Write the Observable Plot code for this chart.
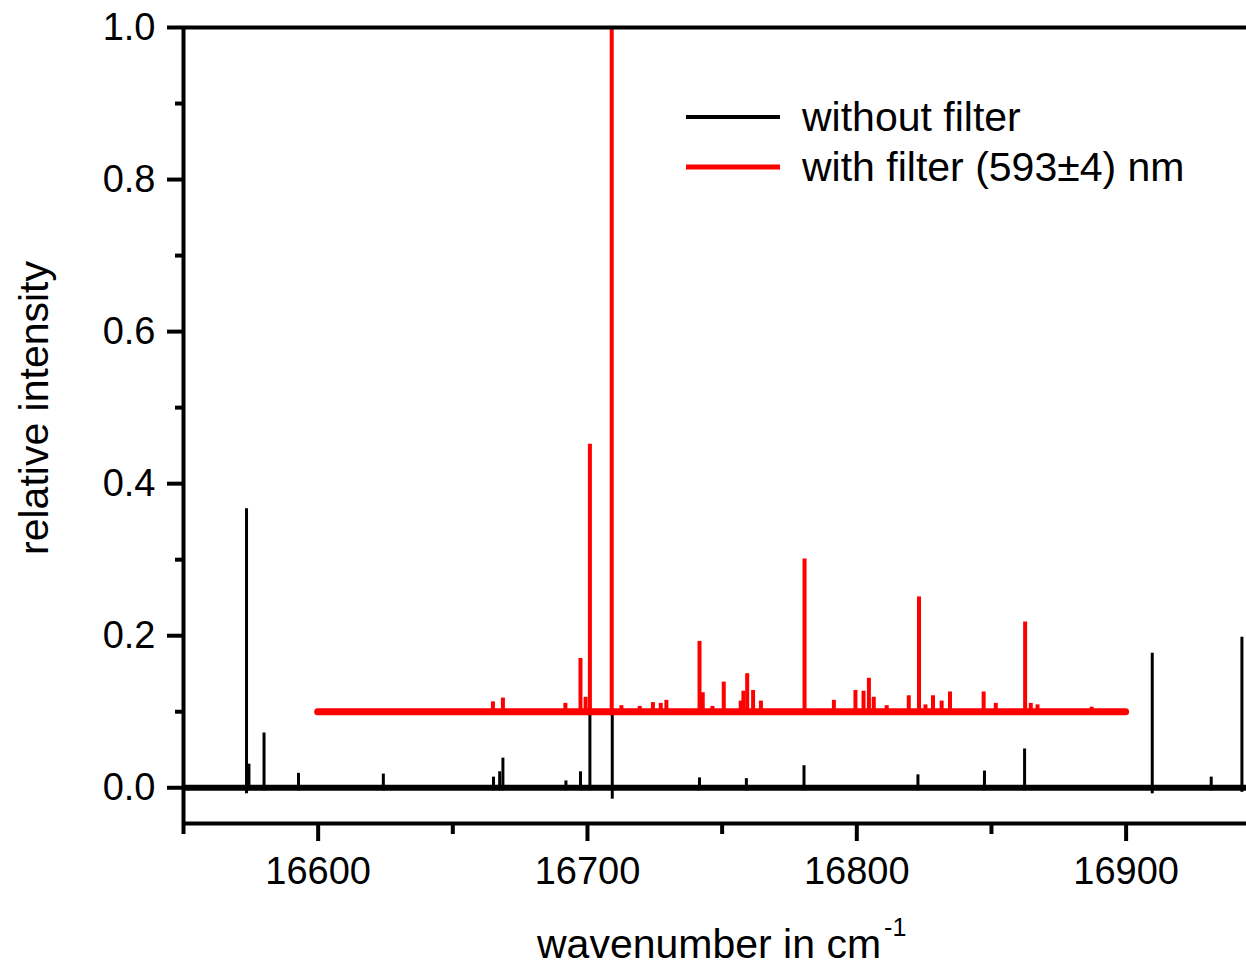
<!DOCTYPE html>
<html><head><meta charset="utf-8">
<script src="https://cdn.jsdelivr.net/npm/d3@7"></script>
<script src="https://cdn.jsdelivr.net/npm/@observablehq/plot@0.6"></script>
<style>
body{margin:0;background:#fff}
svg{display:block}
</style>
</head><body><div id="chart"></div>
<script>
// ---- axes ----
const xDomain = [16550, 16944.7];
const yDomain = [-0.047, 1.0];
const xMajorTicks = [16600, 16700, 16800, 16900];
const xMinorTicks = [16550, 16650, 16750, 16850];
const yMajorTicks = [0, 0.2, 0.4, 0.6, 0.8, 1.0];
const yMinorTicks = [0.1, 0.3, 0.5, 0.7, 0.9];
const xTitle = "wavenumber in cm";
const xTitleSup = "-1";
const yTitle = "relative intensity";

// ---- series ----
const seriesNames = ["without filter", "with filter (593±4) nm"];
const seriesColors = ["#000000", "#ff0000"];

// without filter (black): baseline 0, spectral lines
const blackRange = [16550, 16944.7];
const blackBase = 0;
const blackPeakX   = [16573.4, 16574.3, 16579.9, 16592.7, 16624.2, 16665.1, 16667.4, 16668.6, 16692.0, 16697.4, 16700.9, 16709.2, 16741.6, 16759.0, 16780.4, 16822.7, 16847.4, 16862.3, 16909.7, 16931.6, 16943.0];
const blackPeakTop = [0.367,   0.031,   0.072,   0.019,   0.018,   0.014,   0.021,   0.039,   0.009,   0.021,   0.100,   0.100,   0.013,   0.012,   0.029,   0.017,   0.022,   0.051,   0.177,   0.014,   0.198];
const blackPeakLow = [-0.008, -0.004,  -0.004,  -0.004,  -0.004,  -0.004,  -0.004,  -0.004,  -0.004,  -0.004,  -0.004,  -0.015,  -0.004,  -0.004,  -0.004,  -0.004,  -0.004,  -0.004,  -0.008,  -0.004,  -0.006];

// with filter (red): baseline 0.1, spectral lines
const redRange = [16600, 16900];
const redBase = 0.1;
const redPeakX   = [16664.9, 16668.6, 16691.8, 16697.4, 16699.3, 16700.9, 16709.0, 16712.6, 16719.4, 16724.3, 16727.2, 16729.3, 16741.6, 16742.8, 16746.4, 16750.6, 16756.9, 16757.9, 16759.3, 16761.5, 16764.4, 16780.6, 16791.5, 16799.5, 16802.5, 16804.5, 16806.3, 16811.1, 16819.3, 16823.1, 16825.5, 16828.3, 16831.5, 16834.6, 16847.1, 16851.6, 16862.5, 16864.6, 16867.1, 16887.2];
const redPeakTop = [0.113,   0.118,   0.111,   0.170,   0.119,   0.452,   1.000,   0.108,   0.107,   0.112,   0.111,   0.115,   0.1925,  0.125,   0.107,   0.139,   0.114,   0.127,   0.150,   0.128,   0.114,   0.301,   0.115,   0.128,   0.127,   0.144,   0.119,   0.108,   0.121,   0.251,   0.109,   0.121,   0.114,   0.126,   0.126,   0.111,   0.218,   0.111,   0.109,   0.106];

// ---- tables built from the arrays ----
const blackPeaks = blackPeakX.map((x, i) => ({x, y1: blackPeakLow[i], y2: blackPeakTop[i]}));
const redPeaks = redPeakX.map((x, i) => ({x, y1: redBase, y2: redPeakTop[i]}));
const blackBand = [{y: blackBase, x1: blackRange[0], x2: blackRange[1]}];
const redBand = [{y: redBase, x1: redRange[0], x2: redRange[1]}];

const font = "'Liberation Sans', Arial, sans-serif";

const chart = Plot.plot({
  width: 1246,
  height: 965,
  marginLeft: 183,
  marginRight: 0,
  marginTop: 27,
  marginBottom: 142,
  x: {domain: xDomain},
  y: {domain: yDomain},
  style: {fontFamily: font, fontSize: "38px", background: "#fff", color: "#000", overflow: "visible"},
  marks: [
    Plot.ruleY(blackBand, {y: "y", x1: "x1", x2: "x2", stroke: seriesColors[0], strokeWidth: 6}),
    Plot.ruleX(blackPeaks, {x: "x", y1: "y1", y2: "y2", stroke: seriesColors[0], strokeWidth: 3}),
    Plot.ruleY(redBand, {y: "y", x1: "x1", x2: "x2", stroke: seriesColors[1], strokeWidth: 7, strokeLinecap: "round"}),
    Plot.ruleX(redPeaks, {x: "x", y1: "y1", y2: "y2", stroke: seriesColors[1], strokeWidth: 4}),
    // frame lines
    Plot.ruleX([xDomain[0]], {stroke: "#000", strokeWidth: 4}),
    Plot.ruleY([yDomain[0]], {stroke: "#000", strokeWidth: 4}),
    Plot.ruleY([yDomain[1]], {stroke: "#000", strokeWidth: 4}),
    // axes
    Plot.axisY(yMajorTicks, {tickSize: 16, tickPadding: 12, strokeWidth: 4, tickFormat: d3.format(".1f"), label: null, fontSize: 38}),
    Plot.axisY(yMinorTicks, {tickSize: 8, strokeWidth: 4, tickFormat: () => "", label: null}),
    Plot.axisX(xMajorTicks, {tickSize: 18, tickPadding: 16, strokeWidth: 4, tickFormat: d3.format("d"), label: null, fontSize: 38}),
    Plot.axisX(xMinorTicks, {tickSize: 11, strokeWidth: 4, tickFormat: () => "", label: null})
  ]
});

document.getElementById("chart").appendChild(chart);

// ---- titles and legend ----
const svg = d3.select(chart);
const xt = svg.append("text")
  .attr("x", 537).attr("y", 958)
  .attr("text-anchor", "start")
  .attr("font-family", font).attr("font-size", 41).attr("fill", "#000")
  .text(xTitle);
xt.append("tspan").attr("dx", 3).attr("dy", -22).attr("font-size", 25).text(xTitleSup);

svg.append("text")
  .attr("transform", "translate(48,408) rotate(-90)")
  .attr("text-anchor", "middle")
  .attr("font-family", font).attr("font-size", 41).attr("fill", "#000")
  .text(yTitle);

const lg = svg.append("g").attr("text-anchor", "start");
seriesNames.forEach((name, i) => {
  const yy = 117 + i * 50;
  lg.append("line").attr("x1", 686).attr("x2", 780).attr("y1", yy).attr("y2", yy)
    .attr("stroke", seriesColors[i]).attr("stroke-width", i ? 5 : 4);
  lg.append("text").attr("x", 802).attr("y", yy).attr("dy", "0.35em")
    .attr("text-anchor", "start")
    .attr("font-family", font).attr("font-size", 41).attr("fill", "#000").text(name);
});
</script>
</body></html>
